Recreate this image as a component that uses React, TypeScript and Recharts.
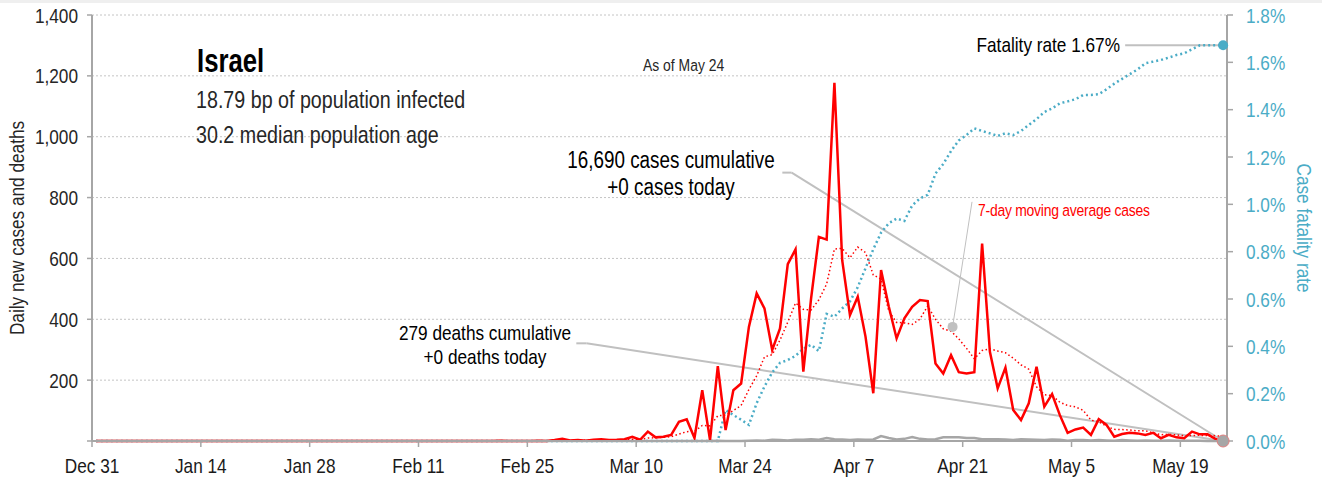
import { LineChart, Line, XAxis, YAxis, CartesianGrid, ReferenceLine, ReferenceDot } from 'recharts';

// no narrow face installed, so Liberation Sans is squeezed horizontally instead
const FONT = "'Liberation Sans', Arial, sans-serif";
const SQUEEZE = 0.82;

// x axis: one slot per day, Dec 31 = day 0
const tickDays = [0, 14, 28, 42, 56, 70, 84, 98, 112, 126, 140];
const tickLabels = ['Dec 31', 'Jan 14', 'Jan 28', 'Feb 11', 'Feb 25', 'Mar 10', 'Mar 24', 'Apr 7', 'Apr 21', 'May 5', 'May 19'];

const leftTicks = [0, 200, 400, 600, 800, 1000, 1200, 1400];
const rightTicks = [0, 0.2, 0.4, 0.6, 0.8, 1.0, 1.2, 1.4, 1.6, 1.8];

// daily new cases, Dec 31 .. May 24
const cases = [
  0, 0, 0, 0, 0, 0, 0, 0, 0, 0,
  0, 0, 0, 0, 0, 0, 0, 0, 0, 0,
  0, 0, 0, 0, 0, 0, 0, 0, 0, 0,
  0, 0, 0, 0, 0, 0, 0, 0, 0, 0,
  0, 0, 0, 0, 0, 0, 0, 0, 0, 0,
  0, 0, 1, 0, 0, 0, 0, 1, 0, 3,
  7, 2, 3, 1, 4, 6, 3, 4, 6, 14,
  4, 31, 12, 14, 20, 63, 71, 10, 167, 3,
  246, 36, 167, 189, 375, 485, 436, 299, 370, 581,
  630, 228, 469, 671, 662, 1177, 594, 414, 474, 343,
  157, 562, 441, 337, 403, 441, 463, 460, 255, 222,
  282, 226, 222, 226, 649, 293, 173, 241, 102, 69,
  124, 244, 113, 154, 85, 27, 38, 44, 20, 72,
  53, 14, 23, 27, 25, 20, 27, 9, 20, 12,
  9, 31, 22, 22, 7, 0,
];

// 7-day moving average cases
const avgCases = [
  0, 0, 0, 0, 0, 0, 0, 0, 0, 0,
  0, 0, 0, 0, 0, 0, 0, 0, 0, 0,
  0, 0, 0, 0, 0, 0, 0, 0, 0, 0,
  0, 0, 0, 0, 0, 0, 0, 0, 0, 0,
  0, 0, 0, 0, 0, 0, 0, 0, 0, 0,
  0, 0, 0.1, 0.1, 0.1, 0.1, 0.1, 0.3, 0.3, 0.6,
  1.6, 1.9, 2.3, 2.4, 2.9, 3.7, 3.7, 3.3, 3.9, 5.4,
  5.9, 9.7, 10.6, 12.1, 14.4, 22.6, 30.7, 31.6, 51, 49.7,
  82.9, 85.1, 100, 116.9, 169, 214.4, 276.3, 283.9, 331.6, 390.7,
  453.7, 432.7, 430.4, 464, 515.9, 631.1, 633, 602.1, 637.3, 619.3,
  545.9, 531.6, 426.4, 389.7, 388.1, 383.4, 400.6, 443.9, 400, 368.7,
  360.9, 335.6, 304.3, 270.4, 297.4, 302.9, 295.9, 290, 272.3, 250.4,
  235.9, 178, 152.3, 149.6, 127.3, 116.6, 112.1, 100.7, 68.7, 62.9,
  48.4, 38.3, 37.7, 36.1, 33.4, 33.4, 27, 20.7, 21.6, 20,
  17.4, 18.3, 18.6, 17.9, 17.6, 14.7,
];

// daily new deaths
const deaths = [
  0, 0, 0, 0, 0, 0, 0, 0, 0, 0,
  0, 0, 0, 0, 0, 0, 0, 0, 0, 0,
  0, 0, 0, 0, 0, 0, 0, 0, 0, 0,
  0, 0, 0, 0, 0, 0, 0, 0, 0, 0,
  0, 0, 0, 0, 0, 0, 0, 0, 0, 0,
  0, 0, 0, 0, 0, 0, 0, 0, 0, 0,
  0, 0, 0, 0, 0, 0, 0, 0, 0, 0,
  0, 0, 0, 0, 0, 0, 0, 0, 0, 0,
  1, 0, 0, 0, 1, 2, 1, 4, 3, 2,
  4, 4, 6, 4, 10, 6, 5, 3, 5, 4,
  5, 16, 10, 5, 7, 13, 7, 5, 6, 12,
  12, 12, 10, 10, 6, 6, 6, 5, 3, 6,
  5, 4, 3, 5, 4, 1, 3, 3, 2, 3,
  2, 1, 3, 2, 1, 2, 1, 1, 2, 1,
  1, 1, 1, 0, 0, 0,
];

// case fatality rate, %
const fatality = [
  0, 0, 0, 0, 0, 0, 0, 0, 0, 0,
  0, 0, 0, 0, 0, 0, 0, 0, 0, 0,
  0, 0, 0, 0, 0, 0, 0, 0, 0, 0,
  0, 0, 0, 0, 0, 0, 0, 0, 0, 0,
  0, 0, 0, 0, 0, 0, 0, 0, 0, 0,
  0, 0, 0, 0, 0, 0, 0, 0, 0, 0,
  0, 0, 0, 0, 0, 0, 0, 0, 0, 0,
  0, 0, 0, 0, 0, 0, 0, 0, 0, 0,
  0, 0.131, 0.11, 0.09, 0.068, 0.16, 0.23, 0.29, 0.33, 0.342,
  0.36, 0.39, 0.406, 0.38, 0.537, 0.525, 0.56, 0.59, 0.65, 0.73,
  0.81, 0.88, 0.92, 0.94, 0.93, 0.995, 1.025, 1.04, 1.13, 1.17,
  1.225, 1.27, 1.293, 1.321, 1.31, 1.3, 1.289, 1.3, 1.293, 1.31,
  1.335, 1.36, 1.39, 1.405, 1.427, 1.435, 1.444, 1.462, 1.462, 1.465,
  1.486, 1.51, 1.53, 1.55, 1.57, 1.596, 1.603, 1.61, 1.62, 1.631,
  1.638, 1.655, 1.672, 1.672, 1.672, 1.672,
];

const rows = cases.map((c, i) => ({
  x: i + 0.5,
  cases: c,
  avg: avgCases[i],
  deaths: deaths[i],
  rate: fatality[i],
}));

const lastX = rows[rows.length - 1].x;
const lastRate = fatality[fatality.length - 1];

const GREY = '#a6a6a6';
const LEADER = '#c0c0c0';
const BLUE = '#4bacc6';

// axis tick drawn with the squeezed font
function NarrowTick(props: any) {
  const { x, y, payload, textAnchor, fill, fmt, dy } = props;
  return (
    <g transform={`translate(${x},${y})`}>
      <text transform={`scale(${SQUEEZE},1)`} textAnchor={textAnchor} fill={fill} fontSize={21} fontFamily={FONT} dy={dy}>
        {fmt(payload.value)}
      </text>
    </g>
  );
}

// free text label, squeezed the same way
function Label({ x, y, size, anchor = 'start', fill = '#1a1a1a', weight = 'normal', rotate = 0, squeeze = SQUEEZE, spacing = 0, children }: any) {
  return (
    <g transform={`translate(${x},${y}) rotate(${rotate})`}>
      <text transform={`scale(${squeeze},1)`} fontSize={size} fontFamily={FONT} textAnchor={anchor} fill={fill} fontWeight={weight} letterSpacing={spacing}>
        {children}
      </text>
    </g>
  );
}

export default function App() {
  return (
    <div style={{ position: 'absolute', left: 0, top: 0, width: 1322, height: 482, background: '#fff' }}>
      <div style={{ position: 'absolute', left: 0, top: 0, width: 1322, height: 3, background: '#efefef' }} />
      <LineChart width={1322} height={482} data={rows} margin={{ top: 15, right: 0, bottom: 0, left: 0 }}>
        <CartesianGrid yAxisId="left" vertical={false} stroke="#c4c4c4" strokeDasharray="2 2" />
        <XAxis
          dataKey="x"
          type="number"
          domain={[0, 146]}
          ticks={tickDays}
          height={41}
          tickSize={6}
          tickMargin={11}
          axisLine={{ stroke: GREY, strokeWidth: 2 }}
          tickLine={{ stroke: GREY, strokeWidth: 1.5 }}
          tick={<NarrowTick fill="#1a1a1a" dy="0.71em" fmt={(v: number) => tickLabels[tickDays.indexOf(v)]} />}
        />
        <YAxis
          yAxisId="left"
          domain={[0, 1400]}
          ticks={leftTicks}
          width={92}
          tickSize={5}
          tickMargin={9}
          axisLine={{ stroke: GREY, strokeWidth: 2 }}
          tickLine={{ stroke: GREY, strokeWidth: 1.5 }}
          tick={<NarrowTick fill="#262626" dy="0.36em" fmt={(v: number) => (v === 0 ? '' : v.toLocaleString('en-US'))} />}
        />
        <YAxis
          yAxisId="right"
          orientation="right"
          domain={[0, 1.8]}
          ticks={rightTicks}
          width={95}
          tickSize={6}
          tickMargin={13}
          axisLine={{ stroke: GREY, strokeWidth: 2 }}
          tickLine={{ stroke: GREY, strokeWidth: 1.5 }}
          tick={<NarrowTick fill={BLUE} dy="0.36em" fmt={(v: number) => `${v.toFixed(1)}%`} />}
        />

        {/* leader lines */}
        <ReferenceLine yAxisId="left" segment={[{ x: 88.8, y: 882 }, { x: 90, y: 882 }]} stroke={LEADER} strokeWidth={2} />
        <ReferenceLine yAxisId="left" segment={[{ x: 90, y: 882 }, { x: lastX, y: 0 }]} stroke={LEADER} strokeWidth={2} />
        <ReferenceLine yAxisId="left" segment={[{ x: 62.3, y: 321 }, { x: 63.6, y: 321 }]} stroke={LEADER} strokeWidth={2} />
        <ReferenceLine yAxisId="left" segment={[{ x: 63.6, y: 321 }, { x: lastX, y: 0 }]} stroke={LEADER} strokeWidth={2} />
        <ReferenceLine yAxisId="right" segment={[{ x: 132.9, y: lastRate }, { x: lastX, y: lastRate }]} stroke={LEADER} strokeWidth={2} />
        <ReferenceLine yAxisId="left" segment={[{ x: 113.2, y: 786 }, { x: 110.7, y: 375 }]} stroke={LEADER} strokeWidth={1} />

        <Line yAxisId="left" dataKey="deaths" stroke={GREY} strokeWidth={2.5} dot={false} isAnimationActive={false} />
        <Line yAxisId="right" dataKey="rate" stroke={BLUE} strokeWidth={2.5} strokeDasharray="2 3" dot={false} isAnimationActive={false} />
        <Line yAxisId="left" dataKey="avg" stroke="#ff0000" strokeWidth={1.5} strokeDasharray="1.5 2.5" dot={false} isAnimationActive={false} />
        <Line yAxisId="left" dataKey="cases" stroke="#ff0000" strokeWidth={2.5} dot={false} isAnimationActive={false} />

        <ReferenceDot yAxisId="left" x={110.7} y={375} r={5} fill="#c0c0c0" stroke="none" />
        <ReferenceDot yAxisId="right" x={lastX} y={lastRate} r={5} fill={BLUE} stroke="none" />
        <ReferenceDot yAxisId="left" x={lastX} y={0} r={6} fill={GREY} stroke="#e08080" strokeWidth={1} />
      </LineChart>

      <svg width={1322} height={482} style={{ position: 'absolute', left: 0, top: 0, pointerEvents: 'none' }}>
        <Label x={197} y={72} size={33} weight="bold" fill="#000" squeeze={0.78}>Israel</Label>
        <Label x={196} y={108} size={24} fill="#262626">18.79 bp of population infected</Label>
        <Label x={196} y={143} size={24} fill="#262626">30.2 median population age</Label>
        <Label x={643} y={71} size={17} fill="#262626">As of May 24</Label>

        <Label x={671} y={168} size={23} fill="#000" anchor="middle">16,690 cases cumulative</Label>
        <Label x={671} y={195} size={23} fill="#000" anchor="middle">+0 cases today</Label>
        <Label x={485} y={340} size={21} fill="#000" anchor="middle">279 deaths cumulative</Label>
        <Label x={485} y={364} size={21} fill="#000" anchor="middle">+0 deaths today</Label>
        <Label x={1120} y={52} size={21} fill="#000" anchor="end">Fatality rate 1.67%</Label>
        <Label x={978} y={216} size={17} fill="#ff0000" spacing={-0.3}>7-day moving average cases</Label>

        <Label x={24} y={228} size={21} fill="#262626" anchor="middle" rotate={-90}>Daily new cases and deaths</Label>
        <Label x={1297} y={228} size={21} fill={BLUE} anchor="middle" rotate={90}>Case fatality rate</Label>
      </svg>
    </div>
  );
}
